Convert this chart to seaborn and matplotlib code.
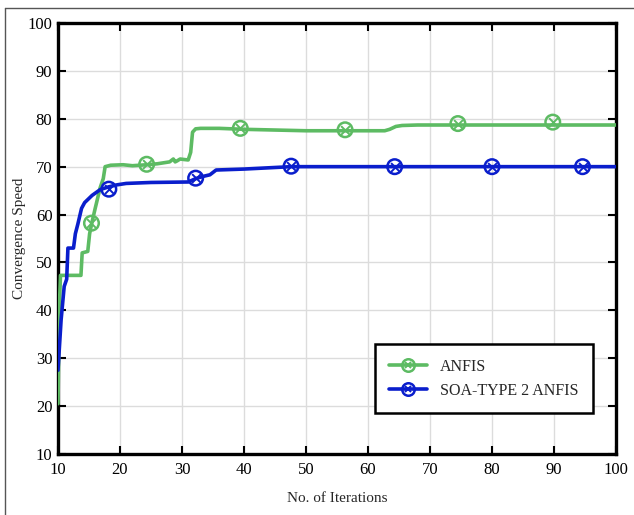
import matplotlib
matplotlib.use("Agg")
import matplotlib.pyplot as plt
import seaborn as sns
import pandas as pd
from matplotlib.lines import Line2D

# ---- data ----
anfis_x = [10, 10.2, 10.4, 13.7, 13.9, 14.8, 15.1, 15.5, 16.0, 16.8, 17.3, 17.6, 18.5, 20.5, 22,
           24.3, 26, 28, 28.6, 28.9, 29.2, 29.7, 30.3, 31.0, 31.4, 31.7, 32.2, 33, 36, 40, 50,
           60, 62.7, 63.5, 64.5, 65.5, 68, 75, 100]
anfis_y = [20.5, 40, 47.3, 47.3, 52, 52.3, 56, 58.5, 61.3, 65.6, 67.5, 70, 70.3, 70.4, 70.2,
           70.4, 70.6, 71.0, 71.6, 71.0, 71.2, 71.6, 71.5, 71.4, 73, 77.2, 77.9, 78.0, 78.0, 77.8, 77.5,
           77.5, 77.5, 77.8, 78.4, 78.6, 78.7, 78.7, 78.7]
soa_x = [10, 10.5, 11.0, 11.4, 11.6, 12.5, 12.8, 13.2, 13.8, 14.3, 15.5, 16.8, 18.2, 19.5, 21,
         25, 31, 32.2, 33.5, 34.5, 35.5, 40, 47.6, 55, 100]
soa_y = [27.5, 38, 45, 46.5, 53, 53, 56, 58, 61.3, 62.5, 64, 65.2, 65.8, 66.2, 66.5,
         66.7, 66.8, 67.5, 68, 68.3, 69.3, 69.5, 70.0, 70.0, 70.0]
anfis_mx = [15.4, 24.3, 39.4, 56.3, 74.5, 89.8]
anfis_my = [58.2, 70.5, 78.0, 77.7, 79.0, 79.3]
soa_mx = [18.2, 32.2, 47.6, 64.3, 80, 94.6]
soa_my = [65.3, 67.6, 70.1, 70.0, 70.0, 70.0]
xticks = [10, 20, 30, 40, 50, 60, 70, 80, 90, 100]
yticks = [10, 20, 30, 40, 50, 60, 70, 80, 90, 100]
labels = ["ANFIS", "SOA-TYPE 2 ANFIS"]

green = "#5dbb63"
blue = "#0a1ecc"

sns.set_theme(style="white")
plt.rcParams["font.family"] = ["Liberation Serif", "DejaVu Serif"]

fig = plt.figure(figsize=(6.34, 5.15), dpi=100)
ax = fig.add_axes([58 / 634, 1 - 454 / 515, (616 - 58) / 634, (454 - 23) / 515])

df_a = pd.DataFrame({"x": anfis_x, "y": anfis_y})
df_s = pd.DataFrame({"x": soa_x, "y": soa_y})
sns.lineplot(data=df_a, x="x", y="y", ax=ax, color=green, lw=2.6, estimator=None, sort=False, zorder=3)
sns.lineplot(data=df_s, x="x", y="y", ax=ax, color=blue, lw=2.6, estimator=None, sort=False, zorder=4)

for mx, my, c, z in [(anfis_mx, anfis_my, green, 5), (soa_mx, soa_my, blue, 6)]:
    dm = pd.DataFrame({"x": mx, "y": my})
    sns.scatterplot(data=dm, x="x", y="y", ax=ax, marker="o", s=110, facecolors="none",
                    edgecolor=c, linewidth=1.8, zorder=z)
    sns.scatterplot(data=dm, x="x", y="y", ax=ax, marker="x", s=40, color=c,
                    linewidth=1.4, zorder=z)

ax.set_xlim(10, 100)
ax.set_ylim(10, 100)
ax.set_xticks(xticks)
ax.set_yticks(yticks)
ax.set_xticklabels([str(t) for t in xticks], fontsize=12)
ax.set_yticklabels([str(t) for t in yticks], fontsize=12)
ax.grid(True, color="#dcdcdc", lw=1.0)
ax.set_axisbelow(True)
for s in ax.spines.values():
    s.set_visible(True)
    s.set_color("black")
    s.set_linewidth(2.4)
ax.tick_params(direction="in", length=6, width=1.5, top=True, right=True,
               bottom=True, left=True, colors="black", labelcolor="black", pad=6)
ax.tick_params(axis="y", pad=4)
ax.set_xlabel("No. of Iterations", fontsize=11, labelpad=10)
ax.set_ylabel("Convergence Speed", fontsize=11, labelpad=1)

h1 = (Line2D([], [], color=green, lw=2.6, marker="o", ms=9, mfc="none", mew=1.8),
      Line2D([], [], color=green, lw=0, marker="x", ms=5, mew=1.4))
h2 = (Line2D([], [], color=blue, lw=2.6, marker="o", ms=9, mfc="none", mew=1.8),
      Line2D([], [], color=blue, lw=0, marker="x", ms=5, mew=1.4))
leg = ax.legend([h1, h2], labels, loc="lower right", bbox_to_anchor=(0.959, 0.095),
                borderaxespad=0, fontsize=11.5, frameon=True, fancybox=False, framealpha=1,
                edgecolor="black", borderpad=0.9, handlelength=2.4, labelspacing=0.5)
leg.get_frame().set_linewidth(1.8)

# outer frame (left and top edges visible)
fig.add_artist(Line2D([5 / 634, 5 / 634], [0, 1 - 8 / 515], color="#555555", lw=1.0,
                      transform=fig.transFigure))
fig.add_artist(Line2D([5 / 634, 1], [1 - 8 / 515, 1 - 8 / 515], color="#555555", lw=1.0,
                      transform=fig.transFigure))

fig.savefig("out.png", dpi=100)
